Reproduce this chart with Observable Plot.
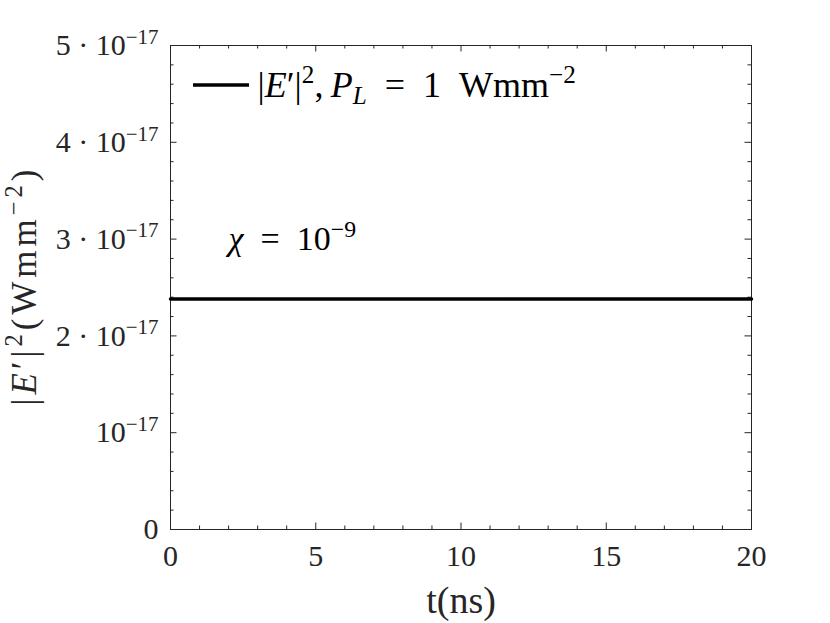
<!DOCTYPE html>
<html>
<head>
<meta charset="utf-8">
<script src="https://cdn.jsdelivr.net/npm/d3@7"></script>
<script src="https://cdn.jsdelivr.net/npm/@observablehq/plot@0.6"></script>
<style>
  html, body { margin: 0; padding: 0; background: #fff; }
  #chart { width: 830px; height: 623px; }
</style>
</head>
<body>
<div id="chart"></div>
<script>
// ---- data ----
const times = [0, 5, 10, 15, 20];                       // t (ns)
const intensity = [2.38e-17, 2.38e-17, 2.38e-17, 2.38e-17, 2.38e-17]; // |E'|^2
const xTicks = [0, 5, 10, 15, 20];
const xTickLabels = ["0", "5", "10", "15", "20"];
const xMinorTicks = [1, 2, 3, 4, 6, 7, 8, 9, 11, 12, 13, 14, 16, 17, 18, 19];
const yTicks = [0, 1e-17, 2e-17, 3e-17, 4e-17, 5e-17];
const yTickLabels = ["0", "10<sup>−17</sup>", "2 · 10<sup>−17</sup>", "3 · 10<sup>−17</sup>", "4 · 10<sup>−17</sup>", "5 · 10<sup>−17</sup>"];
const yMinorTicks = [0.2e-17, 0.4e-17, 0.6e-17, 0.8e-17, 1.2e-17, 1.4e-17, 1.6e-17, 1.8e-17, 2.2e-17, 2.4e-17, 2.6e-17, 2.8e-17, 3.2e-17, 3.4e-17, 3.6e-17, 3.8e-17, 4.2e-17, 4.4e-17, 4.6e-17, 4.8e-17];
const xLabel = "t(ns)";
const yLabel = "|<i>E</i>′|<sup>2</sup>(Wmm<sup>−2</sup>)";
const legendLabel = "|<i>E</i>′|<sup>2</sup>,\u2009<i>P</i><sub><i>L</i></sub>\u2002=\u20021\u2002Wmm<sup>−2</sup>";
const annotation = [{t: 2, v: 3e-17, label: "<i>χ</i>\u2002=\u200210<sup>−9</sup>"}];

const data = times.map((t, i) => ({t, v: intensity[i]}));

// ---- layout ----
const W = 830, H = 623;
const mL = 170, mR = 79, mT = 45, mB = 94;
const FW = W - mL - mR, FH = H - mT - mB;
const FS = 30;
const axisColor = "#262626";
const majorLen = 6.5, minorLen = 3.5;

const tickLbl = (vals, labels) => d => labels[vals.findIndex(v => Math.abs(v - d) < 1e-22)];

const chart = Plot.plot({
  width: W, height: H,
  marginLeft: mL, marginRight: mR, marginTop: mT, marginBottom: mB,
  style: {fontFamily: "'Liberation Serif', serif", fontSize: FS + "px", color: axisColor, background: "#fff"},
  x: {domain: [0, 20]},
  y: {domain: [0, 5e-17]},
  marks: [
    Plot.tickX(xTicks, {x: d => d, stroke: axisColor, insetTop: FH - majorLen}),
    Plot.tickX(xTicks, {x: d => d, stroke: axisColor, insetBottom: FH - majorLen}),
    Plot.tickX(xMinorTicks, {x: d => d, stroke: axisColor, insetTop: FH - minorLen}),
    Plot.tickX(xMinorTicks, {x: d => d, stroke: axisColor, insetBottom: FH - minorLen}),
    Plot.tickY(yTicks, {y: d => d, stroke: axisColor, insetRight: FW - majorLen}),
    Plot.tickY(yTicks, {y: d => d, stroke: axisColor, insetLeft: FW - majorLen}),
    Plot.tickY(yMinorTicks, {y: d => d, stroke: axisColor, insetRight: FW - minorLen}),
    Plot.tickY(yMinorTicks, {y: d => d, stroke: axisColor, insetLeft: FW - minorLen}),
    Plot.axisX(xTicks, {tickSize: 0, tickPadding: 15, tickFormat: tickLbl(xTicks, xTickLabels), label: null, fill: axisColor}),
    Plot.axisY(yTicks, {tickSize: 0, tickPadding: 12, tickFormat: tickLbl(yTicks, yTickLabels), label: null, fill: axisColor}),
    Plot.frame({stroke: axisColor, strokeWidth: 1}),
    Plot.line(data, {x: "t", y: "v", stroke: "#000", strokeWidth: 3.5}),
    Plot.text(annotation, {x: "t", y: "v", text: "label", textAnchor: "start", lineAnchor: "middle", fontSize: 34, fill: "#000"}),
    Plot.text([xLabel], {frameAnchor: "bottom", dy: 71, textAnchor: "middle", lineAnchor: "middle", fontSize: 38, text: d => d, fill: axisColor}),
    Plot.text([yLabel], {frameAnchor: "left", dx: -146, rotate: -90, textAnchor: "middle", lineAnchor: "middle", fontSize: 35, text: d => d, fill: axisColor}),
    Plot.text([legendLabel], {frameAnchor: "top-left", dx: 87, dy: 40, textAnchor: "start", lineAnchor: "middle", fontSize: 36, text: d => d, fill: "#000"})
  ]
});

document.getElementById("chart").appendChild(chart);

// rich text: <i>, <sup>, <sub>
function richify(el) {
  const raw = el.textContent;
  if (raw.indexOf("<") < 0) return;
  const fs = parseFloat(getComputedStyle(el).fontSize) || FS;
  const parts = raw.split(/(<\/?(?:i|sup|sub)>)/);
  el.textContent = "";
  let italic = false, level = 0, cur = 0;
  const ns = "http://www.w3.org/2000/svg";
  for (const p of parts) {
    if (p === "") continue;
    if (p === "<i>") { italic = true; continue; }
    if (p === "</i>") { italic = false; continue; }
    if (p === "<sup>") { level = 1; continue; }
    if (p === "<sub>") { level = -1; continue; }
    if (p === "</sup>" || p === "</sub>") { level = 0; continue; }
    const ts = document.createElementNS(ns, "tspan");
    const target = level === 1 ? -0.38 * fs : level === -1 ? 0.2 * fs : 0;
    if (target !== cur) ts.setAttribute("dy", (target - cur).toFixed(2));
    cur = target;
    if (level !== 0) ts.setAttribute("font-size", (0.7 * fs).toFixed(1));
    if (italic) ts.setAttribute("font-style", "italic");
    ts.textContent = p;
    el.appendChild(ts);
  }
}
d3.select(chart).selectAll("text").each(function() { richify(this); });

// stretch the y label slightly toward the reference's length
d3.select(chart).selectAll("text").filter(function() { return this.textContent.indexOf("Wmm") >= 0 && this.textContent.indexOf("(") >= 0; })
  .attr("textLength", 236).attr("lengthAdjust", "spacing");

// legend swatch
d3.select(chart).append("line")
  .attr("x1", mL + 23).attr("x2", mL + 79)
  .attr("y1", mT + 40).attr("y2", mT + 40)
  .attr("stroke", "#000").attr("stroke-width", 3.5);
</script>
</body>
</html>
